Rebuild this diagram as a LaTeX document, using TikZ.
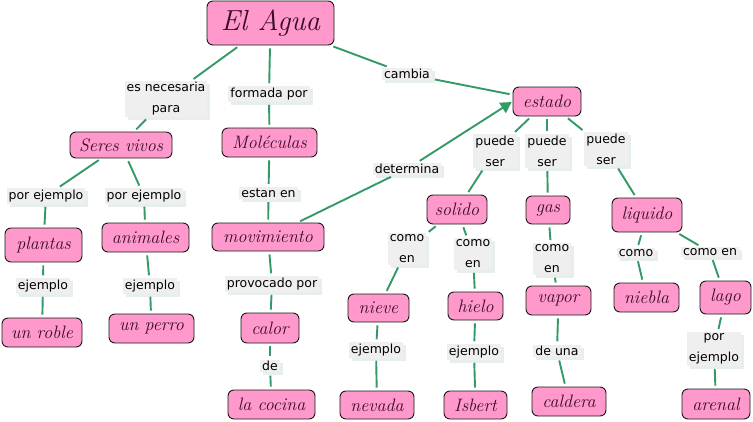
\documentclass[tikz,border=0pt]{standalone}
\usepackage{fontspec}
\usetikzlibrary{arrows.meta,shadows}
\newfontfamily\labfont{DejaVu Sans}
\definecolor{nodepink}{HTML}{FF99CC}
\definecolor{nodetext}{HTML}{3A0A30}
\definecolor{edgegreen}{HTML}{339966}
\definecolor{labfill}{HTML}{EFEFEF}
\definecolor{labshadow}{HTML}{E6EEEE}
\tikzset{
  concept/.style={draw=black!90, line width=0.9pt, fill=nodepink, rounded corners=6pt,
    text=nodetext, font=\fontsize{18}{20}\selectfont\itshape, inner sep=0pt, align=center},
  linklab/.style={fill=labfill, text=black, font=\labfont\fontsize{12.5}{21}\selectfont,
    inner xsep=2pt, inner ysep=1.5pt, align=center,
    drop shadow={shadow xshift=3pt, shadow yshift=-3pt, fill=labshadow, opacity=1}},
  link/.style={draw=edgegreen, line width=1.9pt, shorten <=3pt, shorten >=3pt},
  linkarrow/.style={link, -{Triangle[length=11pt,width=12pt]}, shorten >=1pt}
}
\begin{document}
\begin{tikzpicture}[x=1pt,y=-1pt]
\useasboundingbox (0,0) rectangle (753,421);
% concept nodes
\node[concept, minimum width=127pt, minimum height=44pt, font=\fontsize{29}{31}\selectfont\itshape] (agua) at (270.5,23) {El Agua};
\node[concept, minimum width=102pt, minimum height=26pt] (seres) at (121,145) {Seres vivos};
\node[concept, minimum width=95pt, minimum height=29pt] (molec) at (269.5,142.5) {Moléculas};
\node[concept, minimum width=68pt, minimum height=29pt] (estado) at (547,101.5) {estado};
\node[concept, minimum width=77pt, minimum height=34pt] (plantas) at (43.5,245) {plantas};
\node[concept, minimum width=87pt, minimum height=29pt] (animales) at (145.5,237.5) {animales};
\node[concept, minimum width=112pt, minimum height=28pt] (movim) at (268,237) {movimiento};
\node[concept, minimum width=80pt, minimum height=29pt] (roble) at (42,332.5) {un roble};
\node[concept, minimum width=85pt, minimum height=29pt] (perro) at (151.5,328.5) {un perro};
\node[concept, minimum width=58pt, minimum height=30pt] (calor) at (270,328) {calor};
\node[concept, minimum width=87pt, minimum height=29pt] (cocina) at (271.5,404.5) {la cocina};
\node[concept, minimum width=60pt, minimum height=29pt] (solido) at (457,209.5) {solido};
\node[concept, minimum width=44pt, minimum height=28pt] (gas) at (548,210) {gas};
\node[concept, minimum width=70pt, minimum height=34pt] (liquido) at (647,215) {liquido};
\node[concept, minimum width=61pt, minimum height=28pt] (nieve) at (378.5,308) {nieve};
\node[concept, minimum width=55pt, minimum height=28pt] (hielo) at (475.5,306) {hielo};
\node[concept, minimum width=65pt, minimum height=29pt] (vapor) at (558.5,300.5) {vapor};
\node[concept, minimum width=65pt, minimum height=29pt] (niebla) at (646.5,297.5) {niebla};
\node[concept, minimum width=51pt, minimum height=33pt] (lago) at (725.5,297.5) {lago};
\node[concept, minimum width=74pt, minimum height=28pt] (nevada) at (377,405) {nevada};
\node[concept, minimum width=63pt, minimum height=28pt] (isbert) at (475.5,405) {Isbert};
\node[concept, minimum width=74pt, minimum height=29pt] (caldera) at (569,401.5) {caldera};
\node[concept, minimum width=68pt, minimum height=30pt] (arenal) at (716,404) {arenal};
% link labels
\node[linklab] (lnec) at (166,99) {es necesaria\\para};
\node[linklab] (lform) at (269,94) {formada por};
\node[linklab] (lcamb) at (407,74) {cambia};
\node[linklab] (lpe1) at (46,196) {por ejemplo};
\node[linklab] (lpe2) at (144,196) {por ejemplo};
\node[linklab] (lest) at (268.5,193) {estan en};
\node[linklab] (ldet) at (407,169) {determina};
\node[linklab] (lps1) at (495,151) {puede\\ser};
\node[linklab] (lps2) at (547,151) {puede\\ser};
\node[linklab] (lps3) at (606,149) {puede\\ser};
\node[linklab] (lce1) at (407,249) {como\\en};
\node[linklab] (lce2) at (473,254) {como\\en};
\node[linklab] (lce3) at (552,259) {como\\en};
\node[linklab] (lcomo) at (636,253) {como};
\node[linklab] (lce4) at (710,252) {como en};
\node[linklab] (lej3) at (376,350) {ejemplo};
\node[linklab] (lej4) at (474,352) {ejemplo};
\node[linklab] (luna) at (557,351) {de una};
\node[linklab] (lpe3) at (714,349) {por\\ejemplo};
\node[linklab] (lej1) at (43,286) {ejemplo};
\node[linklab] (lej2) at (150,286) {ejemplo};
\node[linklab] (lprov) at (272,284) {provocado por};
\node[linklab] (lde) at (270,366) {de};
% connectors
\draw[link] (agua) -- (lnec);
\draw[link] (lnec) -- (seres);
\draw[link] (agua) -- (lform);
\draw[link] (lform) -- (molec);
\draw[link] (agua) -- (lcamb);
\draw[link] (lcamb) -- (estado);
\draw[link] (seres) -- (lpe1);
\draw[link] (lpe1) -- (plantas);
\draw[link] (seres) -- (lpe2);
\draw[link] (lpe2) -- (animales);
\draw[link] (plantas) -- (lej1);
\draw[link] (lej1) -- (roble);
\draw[link] (animales) -- (lej2);
\draw[link] (lej2) -- (perro);
\draw[link] (molec) -- (lest);
\draw[link] (lest) -- (movim);
\draw[link] (movim) -- (ldet);
\draw[linkarrow] (ldet) -- (estado.west);
\draw[link] (movim) -- (lprov);
\draw[link] (lprov) -- (calor);
\draw[link] (calor) -- (lde);
\draw[link] (lde) -- (cocina);
\draw[link] (estado) -- (lps1);
\draw[link] (lps1) -- (solido);
\draw[link] (estado) -- (lps2);
\draw[link] (lps2) -- (gas);
\draw[link] (estado) -- (lps3);
\draw[link] (lps3) -- (liquido);
\draw[link] (solido) -- (lce1);
\draw[link] (lce1) -- (nieve);
\draw[link] (solido) -- (lce2);
\draw[link] (lce2) -- (hielo);
\draw[link] (gas) -- (lce3);
\draw[link] (lce3) -- (vapor);
\draw[link] (liquido) -- (lcomo);
\draw[link] (lcomo) -- (niebla);
\draw[link] (liquido) -- (lce4);
\draw[link] (lce4) -- (lago);
\draw[link] (nieve) -- (lej3);
\draw[link] (lej3) -- (nevada);
\draw[link] (hielo) -- (lej4);
\draw[link] (lej4) -- (isbert);
\draw[link] (vapor) -- (luna);
\draw[link] (luna) -- (caldera);
\draw[link] (lago) -- (lpe3);
\draw[link] (lpe3) -- (arenal);
\end{tikzpicture}
\end{document}
